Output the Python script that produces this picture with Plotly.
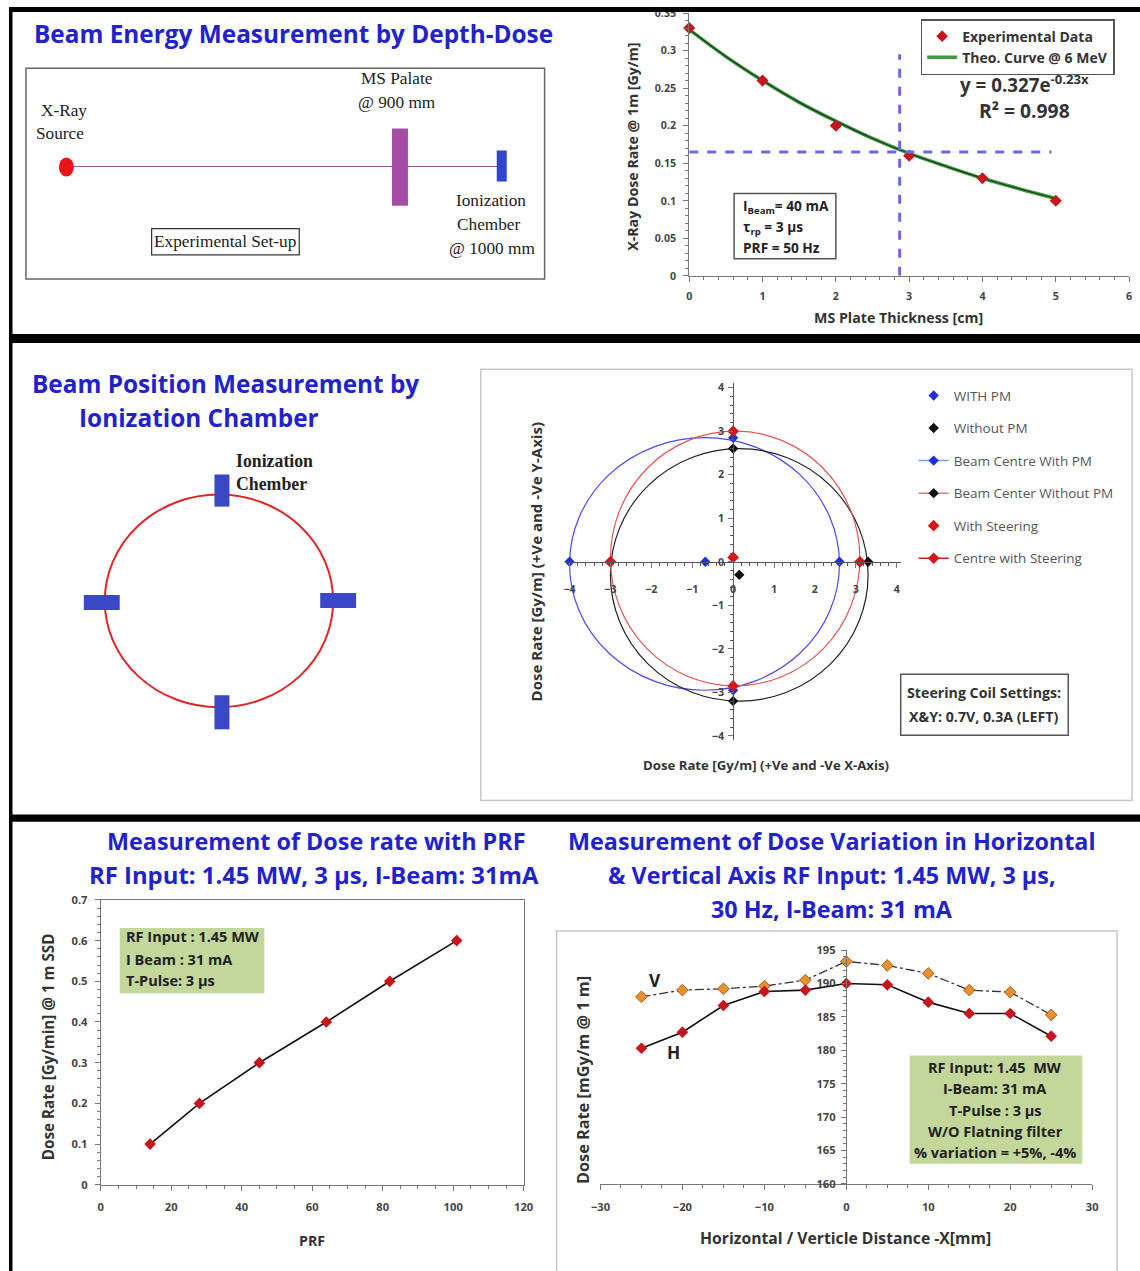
import plotly.graph_objects as go

W, H = 1140, 1271
# calibration of the photographed page against the reference picture
OFF, SC = 8.0, 0.985


def PX(x):
    return ((x - OFF) / SC) / W


def PY(y):
    return 1 - ((y - OFF) / SC) / H


def FS(s):
    return round(s / SC, 2)


# ---------------- data ----------------
# Top-right: depth-dose
thick_cm = [0, 1, 2, 3, 4, 5]
dose_exp = [0.33, 0.26, 0.20, 0.16, 0.13, 0.10]
theo_x = [0, 0.5, 1, 1.5, 2, 2.5, 3, 3.5, 4, 4.5, 5]
theo_y = [0.328, 0.292, 0.260, 0.231, 0.206, 0.183, 0.163, 0.146, 0.130, 0.116, 0.103]
cross_x, cross_y = 2.87, 0.165
cross_top, cross_right = 0.295, 4.94

# Middle: beam position (x, y points on the four chambers)
with_pm_x = [-4.0, 2.6, 0.0, 0.0]
with_pm_y = [0.0, 0.0, 2.85, -2.95]
without_pm_x = [-3.0, 3.3, 0.0, 0.0]
without_pm_y = [0.0, 0.0, 2.6, -3.2]
steer_x = [-3.0, 3.1, 0.0, 0.0]
steer_y = [0.0, 0.0, 3.0, -2.85]
centre_with_pm = ([-0.68], [0.0])
centre_without_pm = ([0.15], [-0.3])
centre_steer = ([0.0], [0.1])

# Bottom-left: dose rate vs PRF
prf = [14, 28, 45, 64, 82, 101]
dose_prf = [0.10, 0.20, 0.30, 0.40, 0.50, 0.60]

# Bottom-right: H / V profiles
dist_mm = [-25, -20, -15, -10, -5, 0, 5, 10, 15, 20, 25]
dose_h = [180.3, 182.7, 186.7, 188.8, 189.0, 190.0, 189.8, 187.2, 185.5, 185.5, 182.1]
dose_v = [188.0, 189.0, 189.2, 189.6, 190.5, 193.3, 192.7, 191.5, 189.0, 188.7, 185.3]

TITLE_BLUE = '#2222cc'
FONT = 'Open Sans'
SERIF = 'Liberation Serif'
RED = '#c8141c'

fig = go.Figure()

# ---- top-right traces ----
fig.add_trace(go.Scatter(x=thick_cm, y=dose_exp, mode='markers', name='Experimental Data',
                         marker=dict(symbol='diamond', size=9, color=RED),
                         xaxis='x', yaxis='y', legend='legend', legendrank=1, cliponaxis=False))
fig.add_trace(go.Scatter(x=theo_x, y=theo_y, mode='lines', name='Theo. Curve @ 6 MeV',
                         line=dict(color='#3f9a3f', width=3.5, shape='spline'),
                         xaxis='x', yaxis='y', legend='legend', legendrank=2))
fig.add_trace(go.Scatter(x=theo_x, y=theo_y, mode='lines', showlegend=False,
                         line=dict(color='#1f3a1f', width=1.2, shape='spline'),
                         xaxis='x', yaxis='y', hoverinfo='skip'))
fig.add_trace(go.Scatter(x=thick_cm, y=dose_exp, mode='markers', showlegend=False,
                         marker=dict(symbol='diamond', size=9, color=RED),
                         xaxis='x', yaxis='y', cliponaxis=False))
# dashed guide lines
fig.add_trace(go.Scatter(x=[cross_x, cross_x], y=[0, cross_top], mode='lines', showlegend=False,
                         line=dict(color='#6a6ae8', width=3, dash='dash'), xaxis='x', yaxis='y'))
fig.add_trace(go.Scatter(x=[0, cross_right], y=[cross_y, cross_y], mode='lines', showlegend=False,
                         line=dict(color='#6a6ae8', width=3, dash='dash'), xaxis='x', yaxis='y'))

# ---- middle traces ----
L2 = dict(xaxis='x2', yaxis='y2', legend='legend2', cliponaxis=False)
fig.add_trace(go.Scatter(x=with_pm_x, y=with_pm_y, mode='markers', name='WITH PM', legendgroup='a',
                         marker=dict(symbol='diamond', size=8, color='#1f2fe0'), **L2))
fig.add_trace(go.Scatter(x=without_pm_x, y=without_pm_y, mode='markers', name='Without PM', legendgroup='b',
                         marker=dict(symbol='diamond', size=8, color='#111111'), **L2))
fig.add_trace(go.Scatter(x=centre_with_pm[0], y=centre_with_pm[1], mode='lines+markers',
                         name='Beam Centre With PM', legendgroup='c',
                         line=dict(color='#7f9fe0', width=1.5),
                         marker=dict(symbol='diamond', size=8, color='#1f2fe0'), **L2))
fig.add_trace(go.Scatter(x=centre_without_pm[0], y=centre_without_pm[1], mode='lines+markers',
                         name='Beam Center Without PM', legendgroup='d',
                         line=dict(color='#e07a7a', width=1.5),
                         marker=dict(symbol='diamond', size=8, color='#111111'), **L2))
fig.add_trace(go.Scatter(x=steer_x, y=steer_y, mode='markers', name='With Steering', legendgroup='e',
                         marker=dict(symbol='diamond', size=9, color='#d01818'), **L2))
fig.add_trace(go.Scatter(x=centre_steer[0], y=centre_steer[1], mode='lines+markers',
                         name='Centre with Steering', legendgroup='f',
                         line=dict(color='#d01818', width=1.5),
                         marker=dict(symbol='diamond', size=9, color='#d01818'), **L2))

# ---- bottom-left ----
fig.add_trace(go.Scatter(x=prf, y=dose_prf, mode='lines+markers', showlegend=False,
                         line=dict(color='#111111', width=1.6),
                         marker=dict(symbol='diamond', size=9, color=RED),
                         xaxis='x3', yaxis='y3', cliponaxis=False))

# ---- bottom-right ----
fig.add_trace(go.Scatter(x=dist_mm, y=dose_v, mode='lines+markers', showlegend=False,
                         line=dict(color='#333333', width=1.3, dash='dashdot'),
                         marker=dict(symbol='diamond', size=9, color='#e8902c',
                                     line=dict(color='#8a4a10', width=0.8)),
                         xaxis='x4', yaxis='y4', cliponaxis=False))
fig.add_trace(go.Scatter(x=dist_mm, y=dose_h, mode='lines+markers', showlegend=False,
                         line=dict(color='#111111', width=1.6),
                         marker=dict(symbol='diamond', size=9, color=RED),
                         xaxis='x4', yaxis='y4', cliponaxis=False))


# ---------------- axes ----------------
def tickf(size):
    return dict(family=FONT, size=FS(size), color='#444', weight='bold')


AX = dict(showgrid=False, zeroline=False, showline=True, linecolor='#777', linewidth=1,
          ticks='outside', tickcolor='#777', ticklen=5)

# middle chart geometry (px per unit in the reference)
mx_scale, my_scale = 41.0, 43.4
mid_x0, mid_y0 = 733, 560
mr = 4.1

fig.update_layout(
    xaxis=dict(AX, domain=[PX(689), PX(1130)], range=[0, 6], dtick=1, anchor='y',
               ticklabelstandoff=5, tickfont=tickf(10.5),
               minor=dict(ticks='outside', ticklen=3, dtick=0.2, tickcolor='#777')),
    yaxis=dict(AX, domain=[PY(275), PY(13)], range=[0, 0.35], dtick=0.05, anchor='x',
               ticklabelstandoff=5, tickfont=tickf(10.5),
               minor=dict(ticks='outside', ticklen=3, dtick=0.01, tickcolor='#777')),
    xaxis2=dict(AX, domain=[PX(mid_x0 - mr * mx_scale), PX(mid_x0 + mr * mx_scale)],
                range=[-mr, mr], dtick=1, tick0=0, anchor='free', position=PY(mid_y0),
                ticklabelstandoff=12, linecolor='#555', tickfont=tickf(10.5),
                minor=dict(ticks='outside', ticklen=3, dtick=0.2, tickcolor='#555')),
    yaxis2=dict(AX, domain=[PY(mid_y0 + mr * my_scale), PY(mid_y0 - mr * my_scale)],
                range=[-mr, mr], dtick=1, tick0=0, anchor='free', position=PX(mid_x0),
                ticklabelstandoff=2, linecolor='#555', tickfont=tickf(10.5),
                minor=dict(ticks='outside', ticklen=3, dtick=0.2, tickcolor='#555')),
    xaxis3=dict(AX, domain=[PX(99), PX(523)], range=[0, 120], dtick=20, anchor='y3',
                mirror=True, ticklabelstandoff=7, tickfont=tickf(11),
                minor=dict(ticks='outside', ticklen=3, dtick=5, tickcolor='#777')),
    yaxis3=dict(AX, domain=[PY(1181), PY(897)], range=[0, 0.7], dtick=0.1, anchor='x3',
                mirror=True, ticklabelstandoff=5, tickfont=tickf(11),
                minor=dict(ticks='outside', ticklen=3, dtick=0.02, tickcolor='#777')),
    xaxis4=dict(AX, domain=[PX(600), PX(1093)], range=[-30, 30], dtick=10, anchor='y4',
                ticklabelstandoff=8, tickfont=tickf(11),
                minor=dict(ticks='outside', ticklen=3, dtick=2.5, tickcolor='#777')),
    yaxis4=dict(AX, domain=[PY(1180), PY(947)], range=[160, 195], dtick=5, anchor='free',
                position=PX(846), ticklabelstandoff=3, tickfont=tickf(11),
                minor=dict(ticks='outside', ticklen=3, dtick=1, tickcolor='#777')),
)

# ---------------- legends ----------------
fig.update_layout(
    legend=dict(x=PX(921), y=PY(19), xanchor='left', yanchor='top', bgcolor='white',
                bordercolor='#555', borderwidth=1.5,
                font=dict(family=FONT, size=FS(13.8), color='#333', weight='bold'),
                itemwidth=30, tracegroupgap=0),
    legend2=dict(x=PX(914), y=PY(379), xanchor='left', yanchor='top', bgcolor='rgba(0,0,0,0)',
                 font=dict(family=FONT, size=FS(13.3), color='#555'),
                 itemwidth=30, tracegroupgap=12),
)

# ---------------- shapes ----------------
shapes = []


def rect(x0, y0, x1, y1, fill=None, line=None, lw=1, layer='above'):
    shapes.append(dict(type='rect', xref='paper', yref='paper', x0=PX(x0), x1=PX(x1),
                       y0=PY(y1), y1=PY(y0), fillcolor=fill if fill else 'rgba(0,0,0,0)',
                       line=dict(color=line if line else 'rgba(0,0,0,0)', width=lw if line else 0),
                       layer=layer))


# black frame lines
rect(7, 7, 1150, 12, fill='black')
rect(7, 7, 10.5, 1290, fill='black')
rect(7, 333, 1150, 342, fill='black')
rect(7, 812, 1150, 819, fill='black')

# top-left set-up diagram
rect(24, 68, 544, 278, line='#666', lw=1.5)
shapes.append(dict(type='line', xref='paper', yref='paper', x0=PX(64), x1=PX(500), y0=PY(166), y1=PY(166),
                   line=dict(color='#a050a0', width=1.2)))
shapes.append(dict(type='circle', xref='paper', yref='paper', x0=PX(57), x1=PX(72), y0=PY(176), y1=PY(157),
                   fillcolor='#e8141c', line=dict(width=0)))
rect(391, 128, 407, 205, fill='#a64ca6')
rect(496, 150, 506, 181, fill='#3344cc')
rect(150, 228, 298, 254, line='#333', lw=1.2)

# top-right info box
rect(734, 193, 836, 258, fill='white', line='#555', lw=1.5)

# middle-left chamber diagram
shapes.append(dict(type='circle', xref='paper', yref='paper', x0=PX(103), x1=PX(332), y0=PY(705), y1=PY(493),
                   line=dict(color='#e02525', width=2)))
rect(213, 473, 228, 505, fill='#3a48c8')
rect(213, 693, 228, 727, fill='#3a48c8')
rect(82, 593, 118, 608, fill='#3a48c8')
rect(319, 591, 355, 606, fill='#3a48c8')

# middle chart panel
rect(480, 368, 1133, 798, line='#c8c8c8', lw=1.5, layer='below')
rect(901, 672, 1069, 733, fill='white', line='#555', lw=1.5)

# ellipses through the four chamber readings
for xs, ys, col in [(with_pm_x, with_pm_y, '#4a4ae6'),
                    (without_pm_x, without_pm_y, '#222222'),
                    (steer_x, steer_y, '#e05555')]:
    shapes.append(dict(type='circle', xref='x2', yref='y2', x0=min(xs), x1=max(xs),
                       y0=min(ys), y1=max(ys), line=dict(color=col, width=1.2), layer='below'))

# bottom-left note box
rect(118, 925, 263, 990, fill='#c4d79b')
# bottom-right panel and note box
rect(556, 928, 1118, 1268, line='#c8c8c8', lw=1.5, layer='below')
rect(910, 1052, 1083, 1160, fill='#c4d79b')

fig.update_layout(shapes=shapes)

# ---------------- annotations ----------------
ann = []


def txt(x, y, s, size, color='#222', family=FONT, bold=False, xanchor='center', angle=0):
    ann.append(dict(x=PX(x), y=PY(y), xref='paper', yref='paper', text=s, showarrow=False,
                    xanchor=xanchor, yanchor='middle', textangle=angle,
                    font=dict(family=family, size=FS(size), color=color,
                              weight='bold' if bold else 'normal')))


# titles
txt(292, 33, 'Beam Energy Measurement by Depth-Dose', 24, TITLE_BLUE, bold=True)
txt(28, 382, 'Beam Position Measurement by', 24, TITLE_BLUE, bold=True, xanchor='left')
txt(75, 416, 'Ionization Chamber', 24, TITLE_BLUE, bold=True, xanchor='left')
txt(315, 838, 'Measurement of Dose rate with PRF', 23, TITLE_BLUE, bold=True)
txt(313, 872, 'RF Input: 1.45 MW, 3 µs, I-Beam: 31mA', 23.5, TITLE_BLUE, bold=True)
txt(832, 838, 'Measurement of Dose Variation in Horizontal', 23, TITLE_BLUE, bold=True)
txt(832, 872, '& Vertical Axis RF Input: 1.45 MW, 3 µs,', 23, TITLE_BLUE, bold=True)
txt(832, 906, '30 Hz, I-Beam: 31 mA', 23, TITLE_BLUE, bold=True)

# set-up diagram text
txt(62, 110, 'X-Ray', 17, '#222', SERIF)
txt(58, 133, 'Source', 17, '#222', SERIF)
txt(396, 78, 'MS Palate', 17, '#222', SERIF)
txt(396, 102, '@ 900 mm', 17, '#222', SERIF)
txt(490, 200, 'Ionization', 17, '#222', SERIF)
txt(488, 224, 'Chember', 17, '#222', SERIF)
txt(491, 248, '@ 1000 mm', 17, '#222', SERIF)
txt(224, 241, 'Experimental Set-up', 17, '#222', SERIF)

# depth-dose chart text
txt(1025, 84, 'y = 0.327e<sup>-0.23x</sup>', 18.5, '#333', bold=True)
txt(1025, 110, 'R² = 0.998', 19, '#333', bold=True)
txt(741, 206, 'I<sub>Beam</sub>= 40 mA', 13.5, '#222', bold=True, xanchor='left')
txt(741, 227, 'τ<sub>rp</sub> = 3 µs', 13.5, '#222', bold=True, xanchor='left')
txt(741, 247, 'PRF = 50 Hz', 13.5, '#222', bold=True, xanchor='left')
txt(632, 146, 'X-Ray Dose Rate @ 1m [Gy/m]', 14, '#333', bold=True, angle=-90)
txt(899, 316, 'MS Plate Thickness [cm]', 14, '#333', bold=True)

# chamber diagram text
txt(233, 460, 'Ionization', 17.5, '#222', SERIF, bold=True, xanchor='left')
txt(233, 482, 'Chember', 17.5, '#222', SERIF, bold=True, xanchor='left')

# beam position chart text
txt(535, 560, 'Dose Rate [Gy/m] (+Ve and -Ve Y-Axis)', 14.8, '#333', bold=True, angle=-90)
txt(766, 763, 'Dose Rate [Gy/m] (+Ve and -Ve X-Axis)', 13, '#333', bold=True)
txt(985, 690, 'Steering Coil Settings:', 14, '#333', bold=True)
txt(985, 714, 'X&amp;Y: 0.7V, 0.3A (LEFT)', 14, '#333', bold=True)

# PRF chart text
txt(122, 933, 'RF Input : 1.45 MW', 14.3, '#222', bold=True, xanchor='left')
txt(122, 956, 'I Beam : 31 mA', 14.3, '#222', bold=True, xanchor='left')
txt(122, 977, 'T-Pulse: 3 µs', 14.3, '#222', bold=True, xanchor='left')
txt(46, 1043, 'Dose Rate [Gy/min] @ 1 m SSD', 15, '#333', bold=True, angle=-90)
txt(311, 1237, 'PRF', 14, '#333', bold=True)

# profile chart text
txt(655, 977, 'V', 17, '#222', bold=True)
txt(673, 1049, 'H', 17, '#222', bold=True)
for i, s in enumerate(['RF Input: 1.45  MW', 'I-Beam: 31 mA', 'T-Pulse : 3 µs',
                       'W/O Flatning filter', '% variation = +5%, -4%']):
    txt(996, 1064 + 21 * i, s, 14.3, '#222', bold=True)
txt(583, 1077, 'Dose Rate [mGy/m @ 1 m]', 16, '#333', bold=True, angle=-90)
txt(846, 1234, 'Horizontal / Verticle Distance -X[mm]', 15.5, '#333', bold=True)

fig.update_layout(annotations=ann, width=W, height=H, margin=dict(l=0, r=0, t=0, b=0),
                  paper_bgcolor='white', plot_bgcolor='rgba(0,0,0,0)', showlegend=True,
                  font=dict(family=FONT))

fig.write_html('out.html', config={'displayModeBar': False},
               post_script="document.body.style.margin='0';"
                           "document.documentElement.style.overflow='hidden';")
